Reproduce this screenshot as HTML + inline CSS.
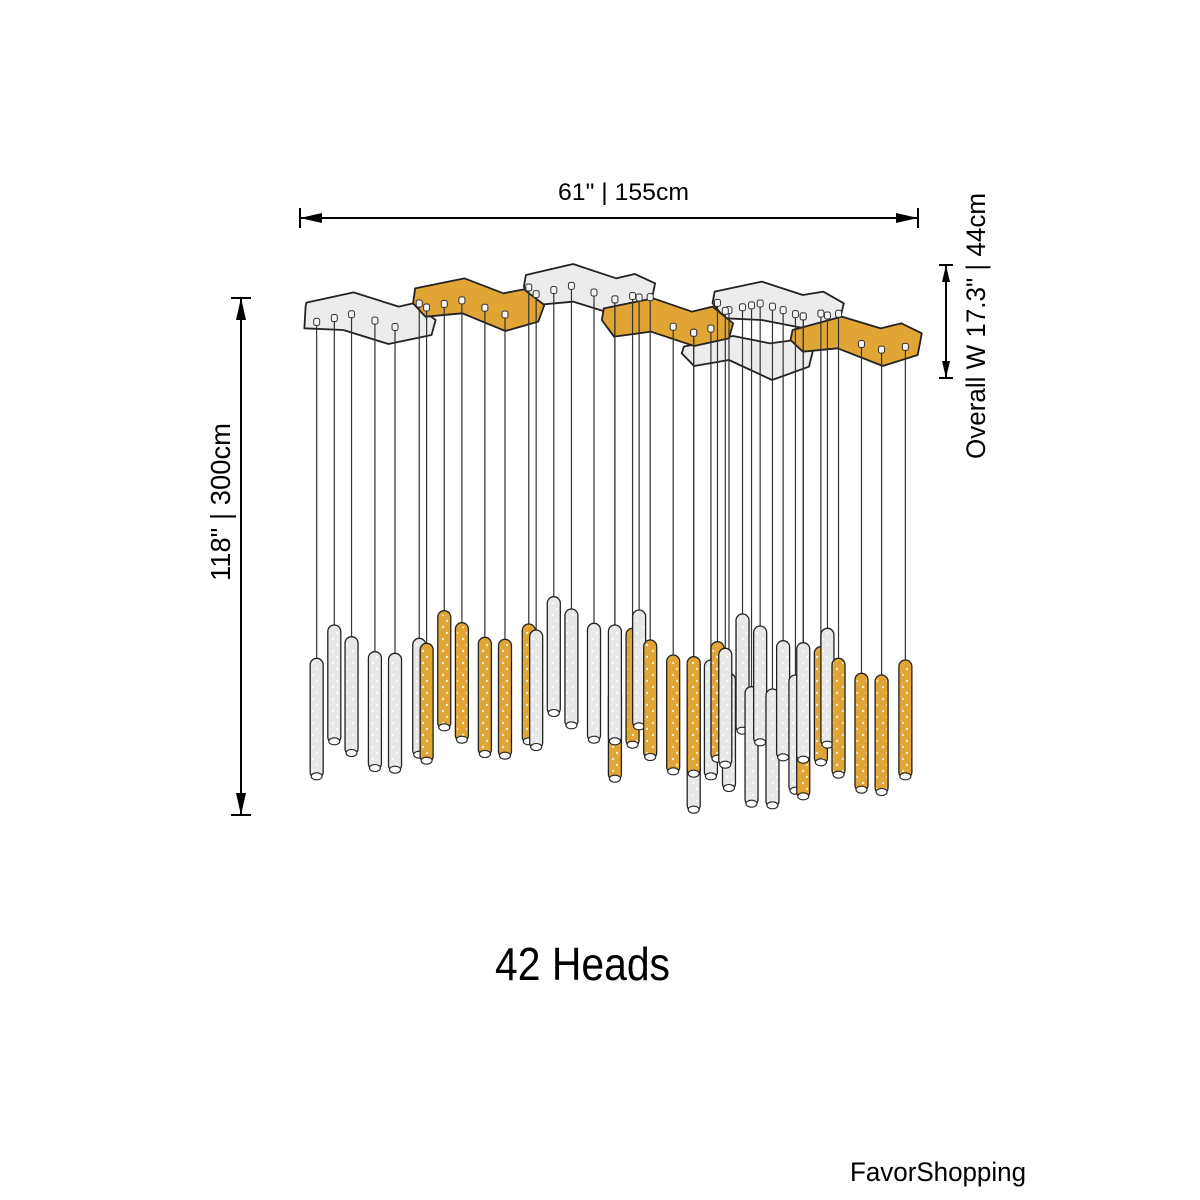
<!DOCTYPE html>
<html><head><meta charset="utf-8"><title>42 Heads chandelier dimensions</title>
<style>
html,body{margin:0;padding:0;background:#fff;}
svg{display:block;font-family:"Liberation Sans",sans-serif;}
</style></head>
<body>
<svg id="chart" width="1200" height="1200" viewBox="0 0 1200 1200" xmlns="http://www.w3.org/2000/svg">
<defs>
<pattern id="dotsW" width="10" height="12" patternUnits="userSpaceOnUse"><circle cx="3" cy="3" r="1.1" fill="#fff"/><circle cx="7" cy="9" r="1.1" fill="#fff"/></pattern>
<pattern id="dotsG" width="10" height="12" patternUnits="userSpaceOnUse"><circle cx="3" cy="3" r="1.2" fill="#fbefcf"/><circle cx="7" cy="9" r="1.2" fill="#fbefcf"/></pattern>
</defs>
<g>
<line x1="300" y1="218" x2="918" y2="218" stroke="#000" stroke-width="2"/>
<line x1="300" y1="208" x2="300" y2="228" stroke="#000" stroke-width="2"/>
<line x1="918" y1="208" x2="918" y2="228" stroke="#000" stroke-width="2"/>
<polygon points="300,218 322,213 322,223" fill="#000"/>
<polygon points="918,218 896,213 896,223" fill="#000"/>
<text x="558" y="200" font-size="24" textLength="131" lengthAdjust="spacingAndGlyphs">61" | 155cm</text>
</g>
<g>
<line x1="241" y1="298" x2="241" y2="815" stroke="#000" stroke-width="2"/>
<line x1="231" y1="298" x2="251" y2="298" stroke="#000" stroke-width="2"/>
<line x1="231" y1="815" x2="251" y2="815" stroke="#000" stroke-width="2"/>
<polygon points="241,298 236,320 246,320" fill="#000"/>
<polygon points="241,815 236,793 246,793" fill="#000"/>
<text transform="translate(230,581) rotate(-90)" font-size="28" textLength="158" lengthAdjust="spacingAndGlyphs">118" | 300cm</text>
</g>
<g>
<line x1="946" y1="265" x2="946" y2="378" stroke="#000" stroke-width="2"/>
<line x1="939" y1="265" x2="953" y2="265" stroke="#000" stroke-width="2"/>
<line x1="939" y1="378" x2="953" y2="378" stroke="#000" stroke-width="2"/>
<polygon points="946,265 942,282 950,282" fill="#000"/>
<polygon points="946,378 942,361 950,361" fill="#000"/>
<text transform="translate(985,459) rotate(-90)" font-size="27" textLength="266" lengthAdjust="spacingAndGlyphs">Overall W 17.3" | 44cm</text>
</g>
<g id="canopies"></g>
<g id="wires"></g>
<g id="tubes"></g>
<text x="495" y="980" font-size="46" textLength="175" lengthAdjust="spacingAndGlyphs">42 Heads</text>
<text x="850" y="1181" font-size="27" textLength="176" lengthAdjust="spacingAndGlyphs">FavorShopping</text>
</svg>
<script>
var tubeX =   [65,108,150,207,256,315,333,376,419,475,524,582,600,643,686,741,792,792,835,851,878,934,984,984,1026,1042,1070,1061,1103,1125,1146,1176,1202,1232,1251,1251,1294,1310,1337,1393,1442,1500];
var tubeTop = [205,105,140,185,190,145,160,62,98,142,148,102,120,20,57,100,300,105,115,60,150,195,300,200,210,155,250,175,72,290,108,297,152,255,380,158,170,115,205,250,255,210];
var tubeBot = [565,460,495,540,545,500,518,418,455,498,503,460,477,375,412,455,572,460,470,415,507,550,665,557,565,512,600,530,428,647,463,652,508,608,625,515,523,470,560,605,612,565];
var tubeColor=["w","w","w","w","w","w","g","g","g","g","g","g","w","w","w","w","g","w","g","w","g","g","w","g","w","g","w","w","w","w","w","w","w","w","g","w","g","w","g","g","g","g"];
var canopyColor=["w","w","g","w","w","g","g"];
var canopyShapes=[
 [[575,45],[690,12],[795,55],[840,42],[890,70],[880,130],[795,165],[690,125],[600,135],[570,80]],
 [[40,128],[155,97],[265,140],[300,130],[355,180],[345,225],[240,252],[130,210],[35,205],[38,140]],
 [[305,85],[425,55],[520,100],[570,88],[620,135],[605,185],[525,213],[420,160],[330,170],[300,130]],
 [[1035,95],[1150,65],[1250,105],[1300,95],[1350,130],[1340,180],[1255,205],[1150,180],[1060,175],[1030,130]],
 [[960,260],[1080,228],[1170,250],[1230,240],[1275,270],[1265,320],[1175,360],[1070,300],[985,318],[955,280]],
 [[765,145],[885,115],[980,155],[1030,140],[1080,190],[1070,235],[985,258],[880,215],[790,230],[760,180]],
 [[1225,210],[1345,170],[1440,205],[1490,190],[1540,220],[1530,285],[1445,318],[1335,265],[1250,275],[1220,240]]
];
function sx(v){return 290+v/2.4375;}
function syT(v){return 590+v/3;}
function syC(v){return 260+v/3;}
var NS="http://www.w3.org/2000/svg";
var wires=document.getElementById('wires'),tubes=document.getElementById('tubes'),can=document.getElementById('canopies');
function mk(t,a){var e=document.createElementNS(NS,t);for(var k in a)e.setAttribute(k,a[k]);return e;}
function crossings(poly,x){
 var ys=[];
 for(var j=0;j<poly.length;j++){
  var a=poly[j],b=poly[(j+1)%poly.length];
  var ax=sx(a[0]),bx=sx(b[0]);
  if((ax<=x&&bx>x)||(bx<=x&&ax>x)){var t=(x-ax)/(bx-ax);ys.push(syC(a[1])+t*(syC(b[1])-syC(a[1])));}
 }
 return ys;
}
function wireStart(x){
 var best=null;
 for(var c=0;c<canopyShapes.length;c++){
  var ys=crossings(canopyShapes[c],x);
  if(ys.length>=2){var lo=Math.min.apply(null,ys),hi=Math.max.apply(null,ys);
   if(best===null||lo<best.lo)best={lo:lo,hi:hi};}
 }
 if(!best)return 330;
 return Math.min(best.lo+22,best.hi-6);
}
for(var c=0;c<canopyShapes.length;c++){
 var pts=canopyShapes[c].map(function(p){return sx(p[0])+','+syC(p[1]);}).join(' ');
 var g=canopyColor[c]==='g';
 var grp=mk('g',{});
 
 
 grp.appendChild(mk('polygon',{points:pts,fill:g?'#e0a535':'#ececec',stroke:'#222','stroke-width':1.8,'stroke-linejoin':'round'}));
 var top=canopyShapes[c].slice(0,5).map(function(p){return sx(p[0])+','+(syC(p[1])+8);}).join(' ');
 grp.appendChild(mk('polyline',{points:top,fill:'none',stroke:g?'#7a5510':'#777','stroke-width':1.2}));
 can.appendChild(grp);
}
for(var i=0;i<tubeX.length;i++){
 var x=sx(tubeX[i]),t=syT(tubeTop[i]),s=wireStart(x);
 var w=mk('line',{x1:x,y1:s,x2:x,y2:t,stroke:'#333','stroke-width':1.2});
 
 
 wires.appendChild(w);
 var p=mk('rect',{x:x-3,y:s-4,width:6,height:7,rx:2,fill:'#f4f4f4',stroke:'#333','stroke-width':1});
 
 
 wires.appendChild(p);
}
for(var i=0;i<tubeX.length;i++){
 var x=sx(tubeX[i]),t=syT(tubeTop[i]),b=syT(tubeBot[i]),g=tubeColor[i]==='g';
 var grp=mk('g',{});
 
 
 grp.appendChild(mk('rect',{x:x-6.5,y:t,width:13,height:b-t,rx:6.5,fill:g?'#e0a535':'#e8e8e8',stroke:'#222','stroke-width':1.3}));
 grp.appendChild(mk('rect',{x:x-5,y:t+4,width:10,height:b-t-8,fill:g?'url(#dotsG)':'url(#dotsW)'}));
 grp.appendChild(mk('ellipse',{cx:x,cy:b-2,rx:5.5,ry:3.5,fill:'#fff',stroke:'#222','stroke-width':1.1}));
 tubes.appendChild(grp);
}
</script>
</body></html>
